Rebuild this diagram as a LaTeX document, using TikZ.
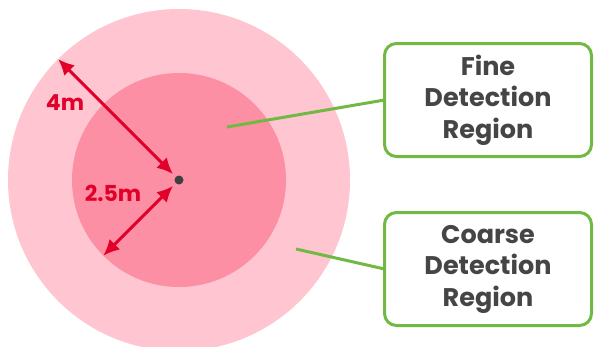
\documentclass[tikz,border=0pt]{standalone}
\usepackage{fontspec}
\setmainfont{Poppins}
\usetikzlibrary{arrows.meta}
\definecolor{outerpink}{HTML}{FFC5D0}
\definecolor{innerpink}{HTML}{FC8FA3}
\definecolor{dimred}{HTML}{E1002A}
\definecolor{leafgreen}{HTML}{72B944}
\definecolor{textgray}{HTML}{454545}
\definecolor{dotgray}{HTML}{3F3F3F}
\begin{document}
\begin{tikzpicture}
  [x=1pt,y=-1pt,every node/.style={outer sep=0pt}]
  \tikzstyle{region} = [circle,inner sep=0pt]
  \tikzstyle{dim} = [draw=dimred,line width=3pt,{Latex[length=16pt,width=15pt]}-{Latex[length=16pt,width=15pt]}]
  \tikzstyle{dimlabel} = [text=dimred,font=\fontsize{22}{22}\selectfont\bfseries]
  \tikzstyle{callout} = [draw=leafgreen,line width=3pt,rounded corners=12pt,
    minimum width=207pt,minimum height=113pt,align=center,text=textgray,
    font=\fontsize{25.5}{31.5}\selectfont\bfseries]
  \tikzstyle{leader} = [draw=leafgreen,line width=3pt]
  \useasboundingbox (0,0) rectangle (594,346);
  \clip (0,0) rectangle (594,346);
  % detection regions
  \node[region,fill=outerpink,minimum size=342pt] (coarse) at (179,180) {};
  \node[region,fill=innerpink,minimum size=214pt] (fine) at (179,180) {};
  \node[region,fill=dotgray,minimum size=9pt] (ctr) at (179,180) {};
  % radii
  \draw[dim,shorten >=4pt] (coarse.north west) -- (ctr);
  \draw[dim,shorten >=4pt] (fine.south west) -- (ctr);
  \node[dimlabel] (lbl4) at (65,103) {4m};
  \node[dimlabel] (lbl25) at (113,193) {2.5m};
  % callouts
  \node[callout] (finebox) at (488,100) {Fine\\Detection\\Region};
  \node[callout] (coarsebox) at (488,269) {Coarse\\Detection\\Region};
  \coordinate (finept) at (227,127);
  \coordinate (coarsept) at (296,249);
  \foreach \source/\dest in {finept/finebox,coarsept/coarsebox}
    \draw[leader] (\source) -- (\dest.west);
\end{tikzpicture}
\end{document}
